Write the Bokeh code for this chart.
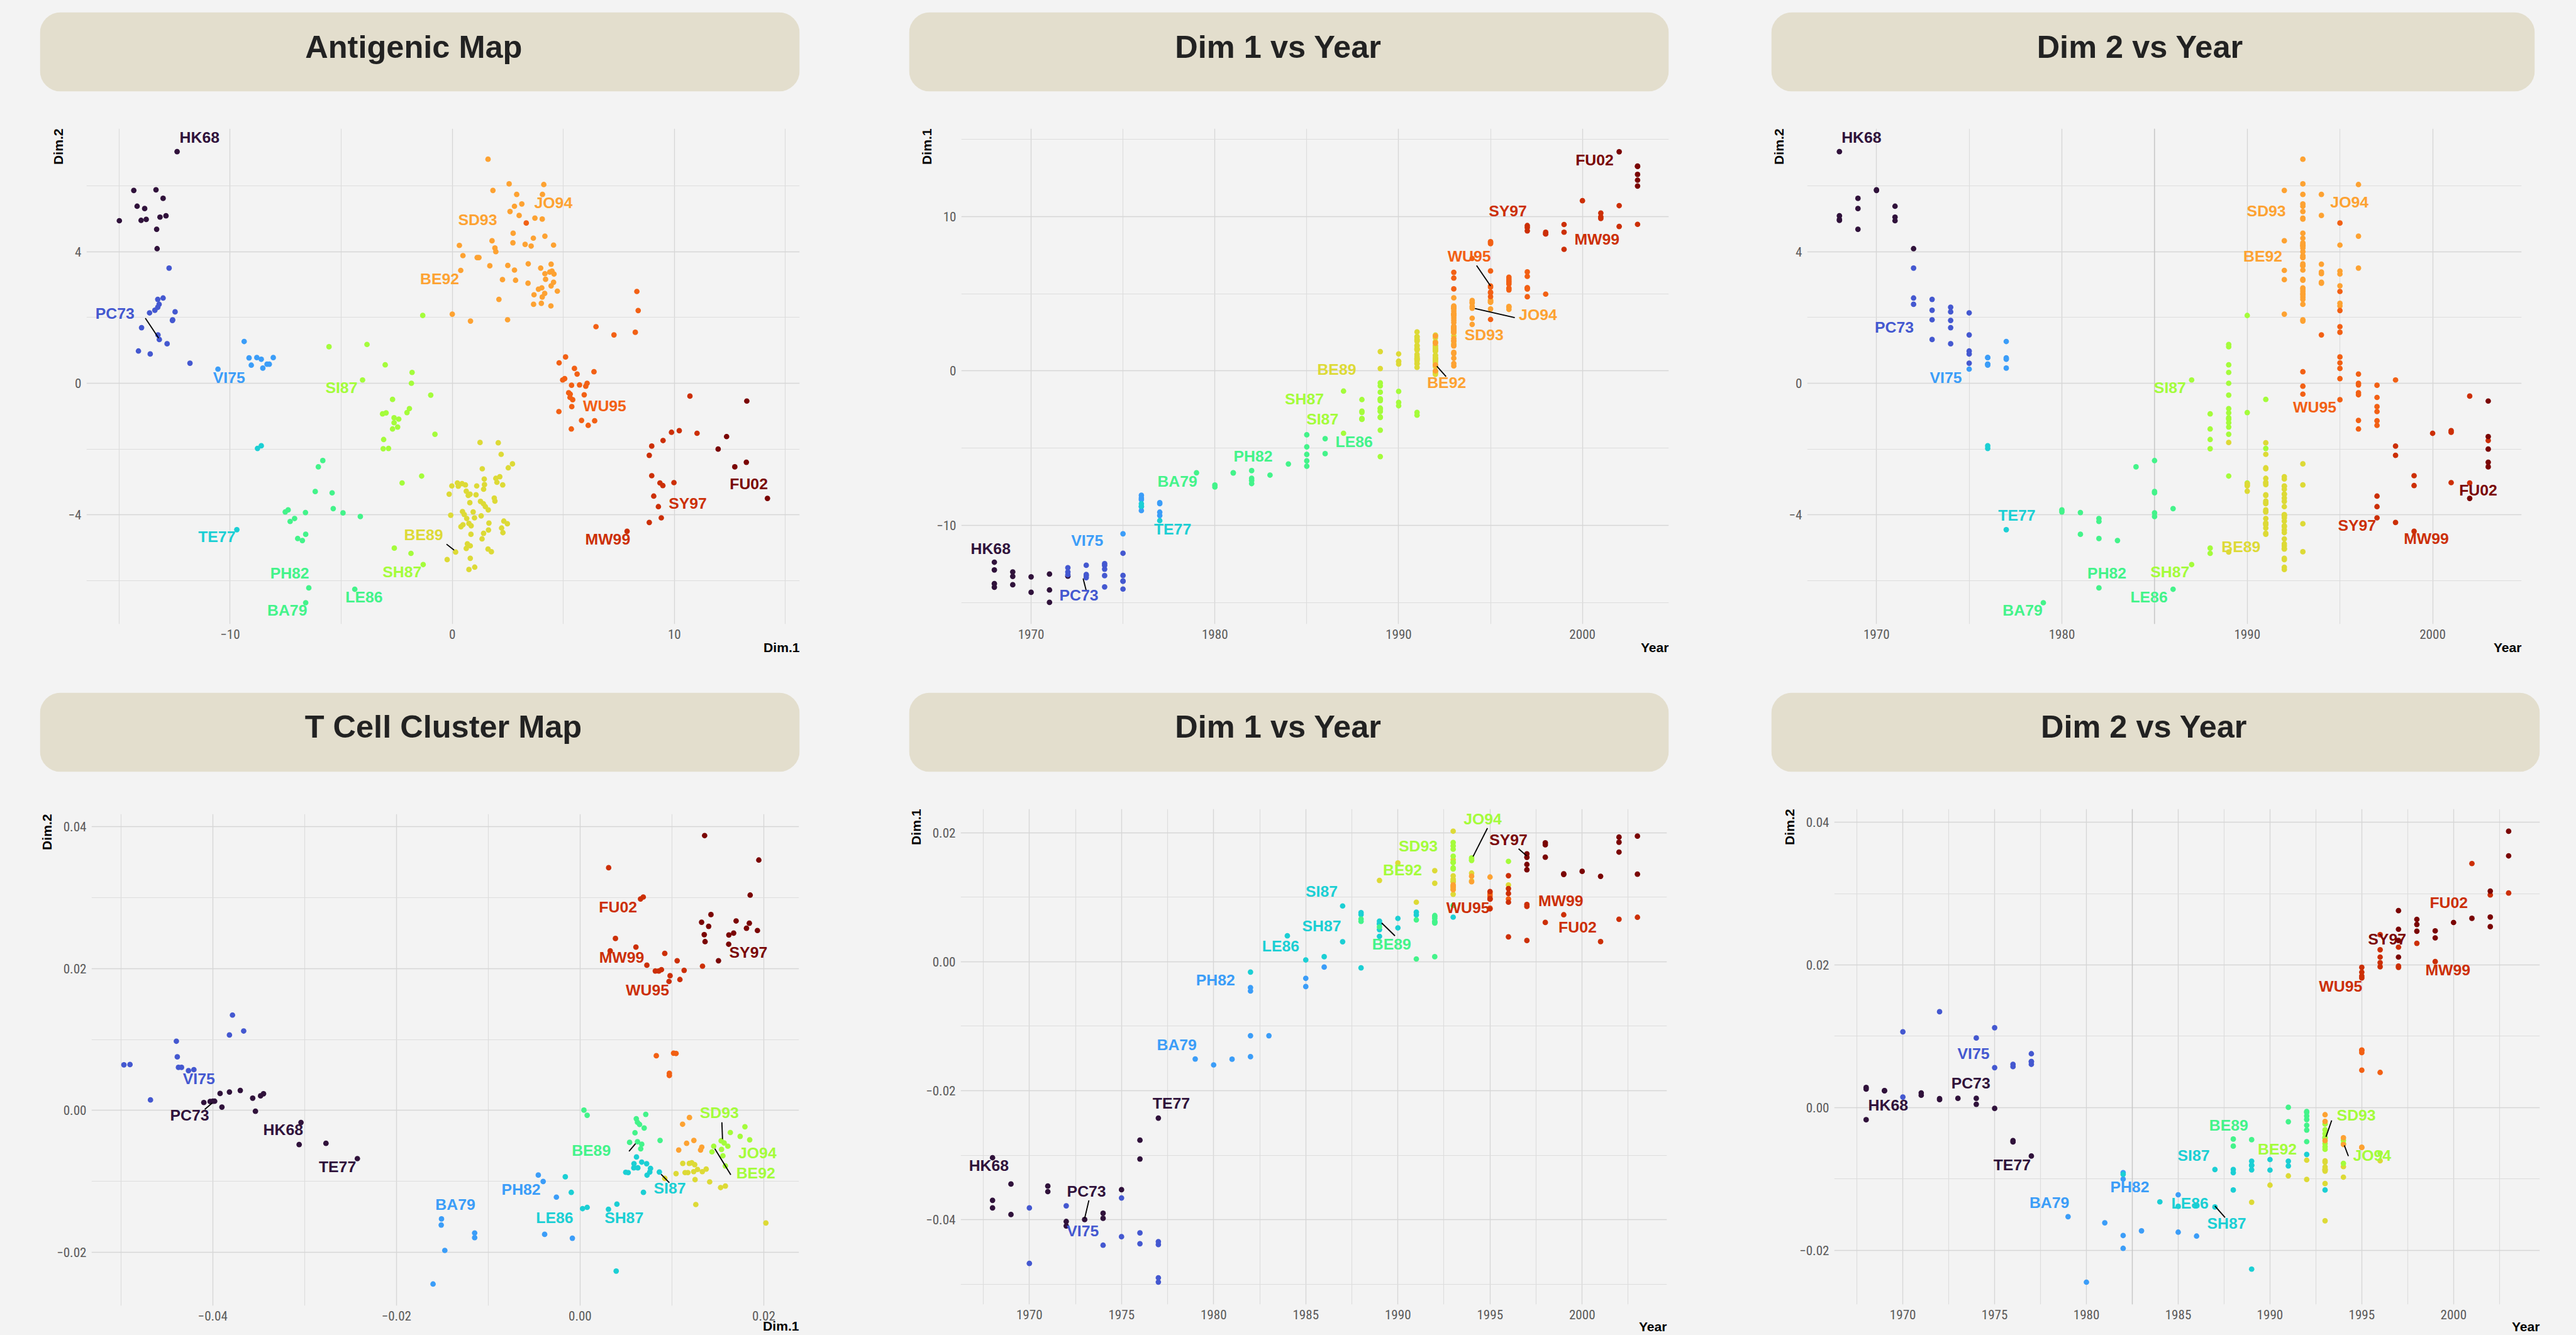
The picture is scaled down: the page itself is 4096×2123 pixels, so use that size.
from bokeh.plotting import figure
from bokeh.models import (Range1d, FixedTicker, BoxAnnotation, Title, Span,
                          ColumnDataSource, CustomJSTickFormatter)
from bokeh.layouts import row, column
from bokeh.core.properties import value
from bokeh.embed import file_html
from bokeh.resources import INLINE

# ======================= DATA =======================
COLORS = {"dark": "#30123b", "royal": "#4458d0", "dodger": "#3b9df8", "cyan": "#1bcfd4",
          "green": "#43f38a", "lime": "#a4fc3b", "yellow": "#ddda36", "orange": "#fda232",
          "orangered": "#f26014", "red": "#cc2f06", "darkred": "#7a0403"}

TITLES = ["Antigenic Map", "Dim 1 vs Year", "Dim 2 vs Year",
          "T Cell Cluster Map", "Dim 1 vs Year", "Dim 2 vs Year"]

# ---- antigenic map: (year, Dim.1, Dim.2) per antigenic cluster ----
AG_HK68 = [(1968, -12.39, 7.04), (1968, -12.89, 5.09), (1968, -13.78, 4.98), (1968, -14.01, 4.95),
           (1969, -13.02, 5.62), (1969, -13.31, 4.68), (1969, -13.85, 5.31), (1970, -13.34, 5.88),
           (1970, -14.34, 5.86), (1971, -13.16, 5.05), (1971, -14.19, 5.38), (1971, -14.99, 4.94),
           (1972, -13.29, 4.09)]
AG_EN72 = [(1972, -12.75, 3.50), (1972, -13.02, 2.59), (1972, -13.20, 2.40), (1973, -13.26, 2.55),
           (1973, -13.39, 2.22), (1973, -12.59, 1.93), (1973, -13.19, 1.33), (1974, -13.26, 2.31),
           (1974, -12.48, 2.17), (1974, -12.60, 1.91), (1974, -13.99, 1.69), (1974, -12.84, 1.20),
           (1975, -13.63, 2.14), (1975, -13.25, 1.47), (1975, -14.13, 0.98), (1975, -13.60, 0.89),
           (1975, -11.81, 0.61)]
AG_VI75 = [(1975, -10.55, 0.43), (1976, -8.06, 0.78), (1976, -8.34, 0.58), (1976, -8.24, 0.58),
           (1976, -8.80, 0.78), (1976, -9.05, 0.55), (1977, -9.37, 1.27), (1977, -8.60, 0.73),
           (1977, -8.53, 0.46), (1977, -9.15, 0.77)]
AG_TX77 = [(1976, -8.77, -1.98), (1976, -8.60, -1.90), (1977, -9.70, -4.45)]
AG_BK79 = [(1979, -6.60, -6.67), (1980, -7.52, -3.91), (1980, -7.39, -3.85), (1981, -6.61, -3.93),
           (1981, -6.60, -4.59), (1982, -7.10, -4.11), (1982, -7.30, -4.20), (1982, -6.96, -4.72),
           (1982, -6.46, -6.22), (1983, -6.75, -4.78), (1984, -6.03, -2.54), (1985, -5.83, -2.35),
           (1985, -6.17, -3.29), (1985, -5.41, -3.33), (1985, -4.92, -3.94), (1985, -4.14, -4.05),
           (1986, -5.36, -3.81), (1986, -4.39, -6.26)]
AG_SI87 = [(1987, -4.04, 0.10), (1987, -1.31, -5.51), (1988, -1.86, -5.17), (1988, -2.61, -5.01),
           (1988, -2.69, -1.39), (1988, -3.09, -1.71), (1988, -3.11, -1.99), (1988, -3.14, -0.93),
           (1989, -5.55, 1.11), (1989, -3.84, 1.18), (1989, -3.02, 0.56), (1989, -1.81, 0.33),
           (1989, -1.84, 0.0), (1989, -0.97, -0.36), (1989, -1.93, -0.77), (1989, -2.98, -0.90),
           (1989, -2.62, -1.05), (1989, -2.41, -1.09), (1989, -2.62, -1.20), (1989, -2.46, -1.33),
           (1989, -0.78, -1.55), (1989, -1.38, -2.82), (1990, -1.33, 2.06), (1990, -2.04, -0.89),
           (1990, -2.26, -3.03), (1991, -2.69, -0.49), (1991, -2.87, -1.98)]
AG_BE89 = [(1989, 1.25, -1.80), (1989, 0.15, -5.13), (1990, 1.10, -3.12), (1990, 0.63, -3.28),
           (1990, 0.59, -3.09), (1990, 0.44, -3.05), (1993, 2.71, -2.45), (1993, 2.27, -3.09),
           (1993, 2.48, -4.27), (1993, 1.76, -5.12),
           (1991, 2.07, -1.81), (1991, 2.20, -2.16), (1991, 2.52, -2.57), (1991, 1.35, -2.60),
           (1992, 1.44, -2.91), (1991, 1.96, -2.89), (1992, 2.14, -2.84), (1991, 2.01, -3.01),
           (1992, -0.02, -3.12), (1991, 0.23, -3.03), (1992, 0.27, -3.13), (1991, 1.45, -3.08),
           (1992, 1.41, -3.22), (1991, 0.72, -3.41), (1992, 0.80, -3.37), (1991, 1.07, -3.39),
           (1992, -0.14, -3.37), (1991, 0.79, -3.63), (1992, 1.27, -3.59), (1991, 1.40, -3.66),
           (1992, 1.49, -3.75), (1991, 1.62, -3.85), (1992, 1.89, -3.49), (1991, 1.92, -3.58),
           (1992, -0.07, -4.01), (1991, 0.46, -3.90), (1992, 0.54, -3.99), (1991, 0.94, -3.91),
           (1992, 1.00, -4.09), (1991, 0.65, -4.11), (1992, 1.30, -4.03), (1991, 0.75, -4.26),
           (1992, 0.85, -4.33), (1991, 0.48, -4.30), (1992, 0.39, -4.36), (1991, 1.65, -4.25),
           (1992, 1.63, -4.46), (1991, 1.41, -4.56), (1992, 2.32, -4.19), (1991, 2.22, -4.40),
           (1992, 2.28, -4.54), (1991, 0.84, -4.59), (1992, 1.34, -4.73), (1992, 0.68, -4.88),
           (1992, 0.81, -4.94), (1992, 0.63, -5.02), (1992, 1.61, -5.04), (1992, -0.23, -5.36),
           (1992, 0.81, -5.32), (1992, 1.01, -5.59), (1992, 0.75, -5.66)]
AG_BE92 = [(1992, 1.83, 5.86), (1992, 1.79, 4.33), (1992, 0.38, 3.43), (1992, 2.26, 3.15),
           (1992, 0.0, 2.10), (1994, 4.06, 5.74), (1994, 3.01, 5.10), (1994, 4.45, 3.62),
           (1994, 4.17, 3.33), (1994, 4.39, 3.38), (1994, 3.41, 3.04), (1994, 4.56, 3.07),
           (1995, 4.56, 4.20), (1995, 4.49, 3.41), (1995, 4.58, 3.32), (1995, 4.45, 2.96),
           (1995, 4.01, 2.43), (1995, 4.44, 2.35), (1996, 4.12, 6.04), (1996, 4.17, 4.47),
           (1996, 3.98, 3.50), (1993, 1.61, 6.81), (1993, 2.56, 6.06), (1993, 2.90, 5.74),
           (1993, 2.80, 5.38), (1993, 3.13, 5.45), (1993, 2.60, 5.22), (1993, 3.72, 5.02),
           (1993, 4.05, 4.99), (1993, 2.74, 4.56), (1993, 2.73, 4.27), (1993, 3.65, 4.41),
           (1993, 3.28, 4.22), (1993, 3.55, 4.17), (1993, 0.32, 4.19), (1993, 1.92, 4.11),
           (1993, 1.96, 4.00), (1993, 0.48, 3.88), (1993, 1.12, 3.82), (1993, 1.20, 3.82),
           (1993, 1.69, 3.57), (1993, 2.50, 3.58), (1993, 2.80, 3.44), (1993, 3.42, 3.63),
           (1993, 4.20, 3.16), (1993, 2.85, 3.13), (1993, 4.03, 2.90), (1993, 3.88, 2.86),
           (1993, 4.16, 2.73), (1993, 4.05, 2.62), (1993, 4.73, 2.80), (1993, 3.68, 2.69),
           (1993, 3.66, 2.40), (1993, 2.10, 2.55), (1993, 0.82, 1.89), (1993, 2.49, 1.93)]
AG_WU95 = [(1993, 6.38, 0.35), (1993, 6.01, -0.09), (1993, 5.31, -0.33), (1994, 7.28, 1.47),
           (1995, 3.33, 4.87), (1995, 8.31, 2.79), (1995, 8.37, 2.21), (1995, 6.47, 1.72),
           (1995, 8.24, 1.55), (1995, 5.10, 0.80), (1995, 4.81, 0.62), (1995, 5.50, 0.45),
           (1995, 5.06, 0.14), (1995, 5.42, -0.50), (1996, 5.62, 0.28), (1996, 6.07, 0.0),
           (1996, 5.73, -0.05), (1996, 5.24, -0.29), (1996, 5.94, -0.35), (1996, 5.82, -1.13),
           (1996, 5.36, -1.39), (1997, 5.30, -0.43), (1997, 5.38, -0.71), (1997, 4.80, -0.86),
           (1997, 6.41, -1.14), (1997, 6.12, -1.28), (1997, 5.37, -0.06), (1998, 4.97, 0.10)]
AG_SY97 = [(1997, 9.07, -3.43), (1997, 9.28, -3.75), (1997, 9.41, -4.09), (1998, 8.98, -1.91),
           (1998, 8.87, -2.19), (1998, 8.87, -4.23), (1999, 8.98, -2.81), (1999, 9.48, -3.11),
           (1999, 7.87, -4.50), (2000, 11.02, -1.52), (2001, 9.87, -1.49), (2001, 10.22, -1.44),
           (2001, 9.98, -3.02), (2002, 10.70, -0.39), (2002, 9.35, -3.03), (2003, 9.49, -1.74)]
AG_FU02 = [(2002, 14.19, -3.50), (2003, 13.26, -0.54), (2003, 12.35, -1.62), (2003, 11.97, -2.0),
           (2003, 13.24, -2.40), (2003, 12.72, -2.54)]

AG_GROUPS = [("dark", AG_HK68), ("royal", AG_EN72), ("dodger", AG_VI75), ("cyan", AG_TX77),
             ("green", AG_BK79), ("lime", AG_SI87), ("yellow", AG_BE89), ("orange", AG_BE92),
             ("orangered", AG_WU95), ("red", AG_SY97), ("darkred", AG_FU02)]

# ---- T cell cluster map: (year, Dim.1, Dim.2) per T-cell cluster colour ----
TC_DARK = [(1968, -0.03039, -0.00170), (1968, -0.03700, 0.00282), (1968, -0.03818, 0.00260),
           (1969, -0.03920, 0.00239), (1969, -0.03447, 0.00235), (1971, -0.03479, 0.00206),
           (1971, -0.03565, 0.00173), (1972, -0.04097, 0.00112), (1972, -0.04028, 0.00126),
           (1973, -0.03998, 0.00130), (1974, -0.03979, 0.00130), (1974, -0.03900, 0.00047),
           (1975, -0.03535, -0.00011), (1976, -0.02767, -0.00463), (1976, -0.03059, -0.00481),
           (1977, -0.02425, -0.00679)]
TC_ROYAL = [(1970, -0.03818, 0.01063), (1970, -0.04678, 0.00148), (1972, -0.03785, 0.01344),
            (1974, -0.04396, 0.00976), (1975, -0.03663, 0.01120), (1975, -0.04264, 0.00560),
            (1976, -0.04373, 0.00607), (1976, -0.04205, 0.00575), (1977, -0.04386, 0.00755),
            (1977, -0.04340, 0.00607), (1977, -0.04967, 0.00643), (1977, -0.04901, 0.00647)]
TC_DODGER = [(1979, -0.01509, -0.01529), (1980, -0.01601, -0.02447), (1981, -0.01512, -0.01615),
             (1982, -0.00455, -0.00911), (1982, -0.00402, -0.01001), (1982, -0.01148, -0.01793),
             (1982, -0.01473, -0.01973), (1983, -0.01148, -0.01727), (1985, -0.00258, -0.01222),
             (1985, -0.00386, -0.01746), (1986, -0.00084, -0.01801)]
TC_CYAN = [(1982, -0.00161, -0.00935), (1984, 0.00401, -0.01321), (1985, 0.00027, -0.01384),
           (1986, 0.00077, -0.01366), (1987, 0.00863, -0.00868), (1987, 0.00309, -0.01393),
           (1988, 0.00759, -0.00868), (1988, 0.00729, -0.00912), (1988, -0.00096, -0.01155),
           (1989, 0.00587, -0.00751), (1989, 0.00585, -0.00809), (1989, 0.00629, -0.00809),
           (1989, 0.00497, -0.00872), (1989, 0.00393, -0.02264), (1990, 0.00671, -0.00728),
           (1990, 0.00524, -0.00876), (1991, 0.00725, -0.00751), (1991, 0.00767, -0.00818),
           (1992, 0.00614, -0.00656), (1993, 0.00690, -0.01155)]
TC_GREEN = [(1988, 0.00625, -0.00441), (1988, 0.00660, -0.00540), (1989, 0.00539, -0.00450),
            (1991, 0.00042, 0.00004), (1991, 0.00648, -0.00198), (1992, 0.00077, -0.00068),
            (1992, 0.00612, -0.00117), (1992, 0.00625, -0.00167), (1992, 0.00715, -0.00055),
            (1992, 0.00698, -0.00248), (1992, 0.00598, -0.00315), (1992, 0.00671, -0.00477),
            (1993, 0.00871, -0.00423)]
TC_YELLOW = [(1989, 0.01260, -0.01326), (1990, 0.01530, -0.01087), (1991, 0.00922, -0.00957),
             (1992, 0.01411, -0.01007), (1992, 0.01216, -0.00737), (1993, 0.02023, -0.01586),
             (1993, 0.01118, -0.00746), (1993, 0.01045, -0.00890), (1993, 0.01143, -0.00876),
             (1993, 0.01174, -0.00876), (1993, 0.01248, -0.00764), (1993, 0.01237, -0.00863),
             (1993, 0.01279, -0.00832), (1993, 0.01331, -0.00863), (1993, 0.01582, -0.01065),
             (1994, 0.01373, -0.00827), (1994, 0.01252, -0.00975), (1996, 0.01189, -0.00746)]
TC_LIME = [(1993, 0.01847, -0.00414), (1993, 0.01795, -0.00230), (1993, 0.01743, -0.00365),
           (1993, 0.01636, -0.00311), (1993, 0.01536, -0.00428), (1993, 0.01455, -0.00504),
           (1993, 0.01436, -0.00584), (1993, 0.01540, -0.00549), (1994, 0.01569, -0.00459),
           (1994, 0.01609, -0.00504), (1994, 0.01582, -0.00782), (1996, 0.01555, -0.00639)]
TC_ORANGE = [(1993, 0.01191, -0.00100), (1993, 0.01116, -0.00194), (1993, 0.01160, -0.00463),
             (1994, 0.01239, -0.00423), (1994, 0.01325, -0.00517), (1995, 0.01074, -0.00558),
             (1995, 0.01312, -0.00558)]
TC_ORANGERED = [(1995, 0.00830, 0.00771), (1995, 0.01018, 0.00807), (1995, 0.01045, 0.00803),
                (1995, 0.00972, 0.00524), (1996, 0.00972, 0.00493)]
TC_RED = [(1995, 0.00968, 0.01818), (1995, 0.01087, 0.01845), (1995, 0.00980, 0.01899),
          (1995, 0.00819, 0.01966), (1996, 0.01333, 0.02033), (1996, 0.01133, 0.01975),
          (1996, 0.01057, 0.02110), (1996, 0.00922, 0.02213), (1996, 0.00385, 0.02424),
          (1997, 0.00857, 0.01966), (1997, 0.00886, 0.01984), (1997, 0.00328, 0.02249),
          (1998, 0.00608, 0.02303), (1999, 0.00727, 0.02047), (2001, 0.00311, 0.03421),
          (2002, 0.00658, 0.02981), (2003, 0.00688, 0.03008)]
TC_DARKRED = [(1997, 0.01425, 0.02761), (1997, 0.01672, 0.02500), (1997, 0.01507, 0.02110),
              (1997, 0.01618, 0.02343), (1998, 0.01843, 0.02639), (1998, 0.01812, 0.02568),
              (1998, 0.01620, 0.02473), (1999, 0.01352, 0.02478), (1999, 0.01361, 0.02379),
              (2000, 0.01400, 0.02595), (2001, 0.01323, 0.02653), (2002, 0.01852, 0.03035),
              (2002, 0.01699, 0.02671), (2002, 0.01931, 0.02536), (2003, 0.01946, 0.03529),
              (2003, 0.01356, 0.03874)]

TC_GROUPS = [("dark", TC_DARK), ("royal", TC_ROYAL), ("dodger", TC_DODGER), ("cyan", TC_CYAN),
             ("green", TC_GREEN), ("yellow", TC_YELLOW), ("lime", TC_LIME), ("orange", TC_ORANGE),
             ("orangered", TC_ORANGERED), ("red", TC_RED), ("darkred", TC_DARKRED)]

# ---- strain labels per panel: (text, x, y, colour) ----
P1_LABELS = [("HK68", -11.38, 7.47, "dark"), ("PC73", -15.19, 2.12, "royal"), ("VI75", -10.05, 0.18, "dodger"),
             ("SI87", -4.99, -0.14, "lime"), ("TE77", -10.6, -4.67, "cyan"), ("PH82", -7.32, -5.77, "green"),
             ("BA79", -7.43, -6.89, "green"), ("LE86", -3.97, -6.49, "green"), ("SH87", -2.26, -5.74, "lime"),
             ("BE89", -1.29, -4.60, "yellow"), ("BE92", -0.57, 3.18, "orange"), ("SD93", 1.14, 4.97, "orange"),
             ("JO94", 4.55, 5.49, "orange"), ("WU95", 6.86, -0.68, "orangered"), ("SY97", 10.6, -3.65, "red"),
             ("MW99", 7.0, -4.74, "red"), ("FU02", 13.35, -3.05, "darkred")]
P2_LABELS = [("FU02", 2000.66, 13.67, "darkred"), ("SY97", 1995.94, 10.34, "red"), ("MW99", 2000.79, 8.54, "red"),
             ("WU95", 1993.84, 7.42, "orangered"), ("JO94", 1997.58, 3.63, "orange"), ("SD93", 1994.65, 2.32, "orange"),
             ("BE92", 1992.61, -0.75, "orange"), ("BE89", 1986.63, 0.11, "yellow"), ("SH87", 1984.87, -1.83, "lime"),
             ("SI87", 1985.85, -3.11, "lime"), ("LE86", 1987.58, -4.57, "green"), ("PH82", 1982.08, -5.54, "green"),
             ("BA79", 1977.96, -7.15, "green"), ("TE77", 1977.7, -10.26, "cyan"), ("VI75", 1973.05, -10.97, "dodger"),
             ("HK68", 1967.8, -11.5, "dark"), ("PC73", 1972.6, -14.53, "royal")]
P3_LABELS = [("HK68", 1969.19, 7.47, "dark"), ("PC73", 1970.96, 1.70, "royal"), ("VI75", 1973.74, 0.18, "dodger"),
             ("TE77", 1977.57, -4.02, "cyan"), ("BA79", 1977.88, -6.89, "green"), ("PH82", 1982.43, -5.77, "green"),
             ("LE86", 1984.7, -6.49, "green"), ("SH87", 1985.83, -5.74, "lime"), ("SI87", 1985.83, -0.14, "lime"),
             ("BE89", 1989.66, -4.96, "yellow"), ("BE92", 1990.84, 3.86, "orange"), ("SD93", 1991.03, 5.23, "orange"),
             ("JO94", 1995.51, 5.51, "orange"), ("WU95", 1993.64, -0.72, "orangered"), ("SY97", 1995.92, -4.32, "red"),
             ("MW99", 1999.66, -4.72, "red"), ("FU02", 2002.46, -3.25, "darkred")]
P4_LABELS = [("FU02", 0.00413, 0.02866, "red"), ("MW99", 0.00453, 0.02154, "red"), ("WU95", 0.00734, 0.01700, "red"),
             ("SY97", 0.01832, 0.02227, "darkred"), ("SD93", 0.01516, -0.00032, "lime"), ("JO94", 0.01931, -0.00599, "lime"),
             ("BE92", 0.01913, -0.00883, "lime"), ("BE89", 0.00122, -0.00567, "green"), ("SI87", 0.00977, -0.01093, "cyan"),
             ("SH87", 0.00478, -0.01514, "cyan"), ("LE86", -0.00277, -0.01514, "cyan"), ("PH82", -0.00642, -0.01117, "dodger"),
             ("BA79", -0.01358, -0.01328, "dodger"), ("VI75", -0.04151, 0.00445, "royal"), ("PC73", -0.04252, -0.00065, "dark"),
             ("HK68", -0.03233, -0.00275, "dark"), ("TE77", -0.02642, -0.00794, "dark")]
P5_LABELS = [("JO94", 1994.6, 0.0221, "lime"), ("SY97", 1996.0, 0.0189, "darkred"), ("SD93", 1991.1, 0.0179, "lime"),
             ("BE92", 1990.25, 0.0142, "lime"), ("SI87", 1985.86, 0.0109, "cyan"), ("MW99", 1998.84, 0.0094, "red"),
             ("WU95", 1993.8, 0.0084, "red"), ("SH87", 1985.86, 0.0055, "cyan"), ("FU02", 1999.75, 0.0053, "red"),
             ("BE89", 1989.66, 0.0027, "green"), ("LE86", 1983.64, 0.0024, "cyan"), ("PH82", 1980.1, -0.0028, "dodger"),
             ("BA79", 1978.0, -0.0129, "dodger"), ("TE77", 1977.7, -0.0220, "dark"), ("HK68", 1967.8, -0.0316, "dark"),
             ("PC73", 1973.1, -0.0356, "dark"), ("VI75", 1972.9, -0.0417, "royal")]
P6_LABELS = [("FU02", 1999.74, 0.0287, "red"), ("SY97", 1996.38, 0.0236, "darkred"), ("MW99", 1999.69, 0.0193, "red"),
             ("WU95", 1993.85, 0.0170, "red"), ("VI75", 1973.85, 0.0076, "royal"), ("PC73", 1973.70, 0.0034, "dark"),
             ("HK68", 1969.2, 0.0003, "dark"), ("TE77", 1975.95, -0.0080, "dark"), ("SD93", 1994.7, -0.0011, "lime"),
             ("BE89", 1987.75, -0.0025, "green"), ("JO94", 1995.56, -0.0067, "lime"), ("BE92", 1990.4, -0.0058, "lime"),
             ("SI87", 1985.84, -0.0067, "cyan"), ("PH82", 1982.36, -0.0111, "dodger"), ("BA79", 1977.98, -0.0133, "dodger"),
             ("LE86", 1985.64, -0.0134, "cyan"), ("SH87", 1987.64, -0.0162, "cyan")]

# ---- leader segments (label -> point) ----
P1_SEGS = [(-13.82, 1.98, -13.22, 1.37), (-0.26, -4.89, 0.08, -5.07)]
P2_SEGS = [(1994.24, 6.82, 1995.0, 5.5), (1994.15, 4.04, 1996.32, 3.45), (1992.08, 0.3, 1992.58, -0.37),
           (1972.83, -13.45, 1972.99, -14.19)]
P3_SEGS = []
P4_SEGS = [(0.01544, -0.00167, 0.01551, -0.00405), (0.01467, -0.00540, 0.01641, -0.00908),
           (0.00533, -0.00576, 0.00604, -0.00468), (0.00882, -0.00899, 0.00972, -0.01020),
           (-0.04087, 0.00014, -0.04005, 0.00105)]
P5_SEGS = [(1994.86, 0.0207, 1994.08, 0.0163), (1996.55, 0.0175, 1996.99, 0.0164),
           (1989.84, 0.0040, 1989.12, 0.0060), (1973.23, -0.0370, 1973.0, -0.0398)]
P6_SEGS = [(1993.36, -0.0018, 1993.05, -0.0041), (1994.05, -0.0053, 1994.27, -0.0068),
           (1987.0, -0.0138, 1987.55, -0.0154)]

# ---- axes ticks ----
AG_DIM1_TICKS, AG_DIM1_MINOR = [-10, 0, 10], [-15, -5, 5, 15]
AG_DIM2_TICKS, AG_DIM2_MINOR = [-4, 0, 4], [-6, -2, 2, 6]
AG_YEAR_TICKS, AG_YEAR_MINOR = [1970, 1980, 1990, 2000], [1975, 1985, 1995]
AG_YDIM1_TICKS, AG_YDIM1_MINOR = [-10, 0, 10], [-15, -5, 5, 15]
TC_DIM1_TICKS, TC_DIM1_MINOR = [-0.04, -0.02, 0.0, 0.02], [-0.05, -0.03, -0.01, 0.01]
TC_DIM2_TICKS, TC_DIM2_MINOR = [-0.02, 0.0, 0.02, 0.04], [-0.01, 0.01, 0.03]
TC_YEAR_TICKS = [1970, 1975, 1980, 1985, 1990, 1995, 2000]
TC_YEAR_MINOR = [1967.5, 1972.5, 1977.5, 1982.5, 1987.5, 1992.5, 1997.5, 2002.5]
TC_Y1_TICKS, TC_Y1_MINOR = [-0.04, -0.02, 0.0, 0.02], [-0.05, -0.03, -0.01, 0.01]

# ======================= STYLE / LAYOUT =======================
S = 0.918
BG = "#f3f3f3"
STRIP_COLOR = "#e3decd"
FONT = "Liberation Sans"
TICK_FONT = "'Liberation Sans Narrow', 'Arial Narrow', 'Roboto Condensed', Roboto, sans-serif"
GRID_MAJOR = "#d6d6d6"
GRID_MINOR = "#dddddd"

FMT_INT = "return (Math.abs(tick) < 1e-9 ? '0' : String(Math.round(tick))).replace('-', '\u2212');"
FMT_2 = "return (Math.abs(tick) < 1e-12 ? '0.00' : tick.toFixed(2)).replace('-', '\u2212');"


def no_align(fig):
    try:
        fig.frame_align = False
    except Exception:
        pass


def make_strip(w, h, bl, br, bt, bb, title, cx, cy):
    s = figure(width=w, height=h, x_range=Range1d(0, 1), y_range=Range1d(0, 1),
               x_axis_type=None, y_axis_type=None, output_backend="svg", toolbar_location=None,
               min_border_left=bl, min_border_right=br, min_border_top=bt, min_border_bottom=bb,
               background_fill_color=BG, border_fill_color=BG, outline_line_color=None)
    no_align(s)
    s.grid.visible = False
    s.add_layout(BoxAnnotation(left=0, right=1, bottom=0, top=1, fill_color=STRIP_COLOR, fill_alpha=1.0,
                               line_color=None, border_radius=round(36 * S), level="underlay"))
    s.text(x=[cx], y=[cy], text=[title], text_font=value(FONT), text_font_style="bold",
           text_font_size=f"{55 * S:.1f}px", text_color="#222222", text_align="center",
           text_baseline="middle")
    return s


def make_panel(w, h, bl, br, bt, bb, xr, yr, xt, xm, yt, ym, xfmt, yfmt, xlab, ylab,
               pts, labels, segs, spans=(), xlab_standoff=-6):
    p = figure(width=w, height=h, x_range=Range1d(*xr), y_range=Range1d(*yr),
               output_backend="svg", toolbar_location=None,
               min_border_left=bl, min_border_right=br, min_border_top=bt, min_border_bottom=bb,
               background_fill_color=BG, border_fill_color=BG, outline_line_color=None)
    no_align(p)
    xtk = FixedTicker(ticks=xt, minor_ticks=xm)
    ytk = FixedTicker(ticks=yt, minor_ticks=ym)
    p.xaxis.ticker = xtk
    p.yaxis.ticker = ytk
    p.xgrid.ticker = xtk
    p.ygrid.ticker = ytk
    p.xaxis.formatter = CustomJSTickFormatter(code=xfmt)
    p.yaxis.formatter = CustomJSTickFormatter(code=yfmt)
    for ax in (p.xaxis, p.yaxis):
        ax.axis_line_color = None
        ax.major_tick_line_color = None
        ax.minor_tick_line_color = None
        ax.major_tick_out = 0
        ax.major_tick_in = 0
        ax.major_label_text_font = TICK_FONT
        ax.major_label_text_font_size = f"{23 * S:.1f}px"
        ax.major_label_text_color = "#5a5a5a"
        ax.major_label_standoff = 4
    for g in (p.xgrid, p.ygrid):
        g.grid_line_color = GRID_MAJOR
        g.grid_line_width = 1.3
        g.minor_grid_line_color = GRID_MINOR
        g.minor_grid_line_width = 1.2
    for loc in spans:
        p.add_layout(Span(location=loc, dimension="height", line_color="#c6c6c6",
                          line_width=1.4, level="underlay"))

    for cname, xs, ys in pts:
        p.scatter(x=xs, y=ys, size=9.5 * S, color=COLORS[cname], line_color=None)

    if segs:
        p.segment(x0=[s[0] for s in segs], y0=[s[1] for s in segs],
                  x1=[s[2] for s in segs], y1=[s[3] for s in segs],
                  line_color="black", line_width=2 * S)

    src = ColumnDataSource(dict(x=[l[1] for l in labels], y=[l[2] for l in labels],
                                text=[l[0] for l in labels], color=[COLORS[l[3]] for l in labels]))
    p.text(x="x", y="y", text="text", source=src, text_color="color", text_font=value(FONT),
           text_font_style="bold", text_font_size=f"{27 * S:.1f}px", text_align="center",
           text_baseline="middle")

    p.add_layout(Title(text=ylab, align="right", text_font=FONT, text_font_style="bold",
                       text_font_size=f"{23 * S:.1f}px", text_color="black", standoff=4), "left")
    p.add_layout(Title(text=xlab, align="right", text_font=FONT, text_font_style="bold",
                       text_font_size=f"{23 * S:.1f}px", text_color="black",
                       standoff=xlab_standoff), "below")
    return p


def cols(groups, i, j):
    return [(c, [r[i] for r in rows], [r[j] for r in rows]) for c, rows in groups]


CW = [1359, 1395, 1342]
H_STRIP_T, H_PLOT_T, H_STRIP_B, H_PLOT_B = 184, 881, 202, 856
TCX = [0.492, 0.486, 0.483, 0.531, 0.486, 0.485]
TCY_T, TCY_B = 0.565, 0.573

s1 = make_strip(CW[0], H_STRIP_T, 63, 88, 19, 39, TITLES[0], TCX[0], TCY_T)
s2 = make_strip(CW[1], H_STRIP_T, 86, 101, 19, 39, TITLES[1], TCX[1], TCY_T)
s3 = make_strip(CW[2], H_STRIP_T, 62, 66, 19, 39, TITLES[2], TCX[2], TCY_T)
s4 = make_strip(CW[0], H_STRIP_B, 63, 88, 36, 40, TITLES[3], TCX[3], TCY_B)
s5 = make_strip(CW[1], H_STRIP_B, 86, 101, 36, 40, TITLES[4], TCX[4], TCY_B)
s6 = make_strip(CW[2], H_STRIP_B, 62, 58, 36, 40, TITLES[5], TCX[5], TCY_B)

p1 = make_panel(CW[0], H_PLOT_T, 137, 88, 20, 73, (-16.47, 15.64), (-7.32, 7.74),
                AG_DIM1_TICKS, AG_DIM1_MINOR, AG_DIM2_TICKS, AG_DIM2_MINOR, FMT_INT, FMT_INT,
                "Dim.1", "Dim.2", cols(AG_GROUPS, 1, 2), P1_LABELS, P1_SEGS)
p2 = make_panel(CW[1], H_PLOT_T, 169, 101, 20, 73, (1966.2, 2004.7), (-16.4, 15.69),
                AG_YEAR_TICKS, AG_YEAR_MINOR, AG_YDIM1_TICKS, AG_YDIM1_MINOR, FMT_INT, FMT_INT,
                "Year", "Dim.1", cols(AG_GROUPS, 0, 1), P2_LABELS, P2_SEGS)
p3 = make_panel(CW[2], H_PLOT_T, 119, 87, 20, 73, (1966.26, 2004.8), (-7.32, 7.74),
                AG_YEAR_TICKS, AG_YEAR_MINOR, AG_DIM2_TICKS, AG_DIM2_MINOR, FMT_INT, FMT_INT,
                "Year", "Dim.2", cols(AG_GROUPS, 0, 2), P3_LABELS, P3_SEGS, spans=(1985,))
p4 = make_panel(CW[0], H_PLOT_B, 145, 89, 27, 47, (-0.0532, 0.02384), (-0.02753, 0.04178),
                TC_DIM1_TICKS, TC_DIM1_MINOR, TC_DIM2_TICKS, TC_DIM2_MINOR, FMT_2, FMT_2,
                "Dim.1", "Dim.2", cols(TC_GROUPS, 1, 2), P4_LABELS, P4_SEGS, xlab_standoff=-16)
p5 = make_panel(CW[1], H_PLOT_B, 168, 104, 19, 49, (1966.27, 2004.6), (-0.05315, 0.02367),
                TC_YEAR_TICKS, TC_YEAR_MINOR, TC_Y1_TICKS, TC_Y1_MINOR, FMT_INT, FMT_2,
                "Year", "Dim.1", cols(TC_GROUPS, 0, 1), P5_LABELS, P5_SEGS, xlab_standoff=-10)
p6 = make_panel(CW[2], H_PLOT_B, 162, 58, 19, 49, (1966.26, 2004.7), (-0.0276, 0.04186),
                TC_YEAR_TICKS, TC_YEAR_MINOR, TC_DIM2_TICKS, TC_DIM2_MINOR, FMT_INT, FMT_2,
                "Year", "Dim.2", cols(TC_GROUPS, 0, 2), P6_LABELS, P6_SEGS, spans=(1982.5,),
                xlab_standoff=-10)

layout = row(column(s1, p1, s4, p4), column(s2, p2, s5, p5), column(s3, p3, s6, p6))
layout.styles = {"background-color": BG}

open("out.html", "w").write(file_html(layout, INLINE))
